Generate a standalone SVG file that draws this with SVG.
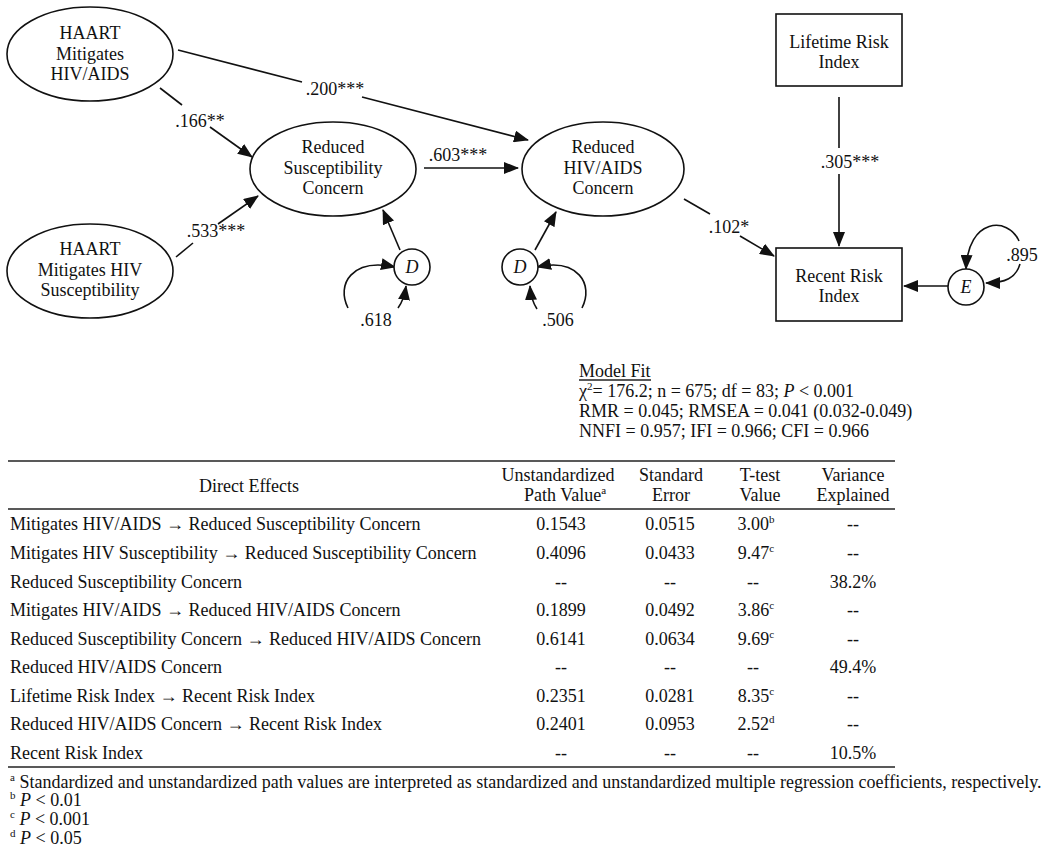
<svg xmlns="http://www.w3.org/2000/svg" width="1050" height="851" viewBox="0 0 1050 851">
<style>
text{font-family:"Liberation Serif","Times New Roman",serif;font-size:18px;fill:#111}
.c{text-anchor:middle}
.node{fill:#fff;stroke:#111;stroke-width:1.6}
.ln{fill:none;stroke:#111;stroke-width:1.6}
.ar{fill:none;stroke:#111;stroke-width:1.6;marker-end:url(#ah)}
.rule{stroke:#222;stroke-width:1.5}
.sup{font-size:11px}
</style>
<defs>
<marker id="ah" markerUnits="userSpaceOnUse" markerWidth="15" markerHeight="12" refX="14" refY="6" orient="auto">
<path d="M0,0 L15,6 L0,12 z" fill="#111"/>
</marker>
</defs>

<g id="connectors">
<path class="ln" d="M160,88 L182,105"/>
<path class="ar" d="M210,127 L252,157"/>
<path class="ln" d="M176,257 L193,243"/>
<path class="ar" d="M218,224 L258,196"/>
<path class="ln" d="M178,50 L302,82"/>
<path class="ar" d="M362,97 L528,140"/>
<path class="ar" d="M424,168 L518,168"/>
<path class="ln" d="M684,199 L710,214"/>
<path class="ar" d="M740,236 L774,256"/>
<path class="ln" d="M839,97 L839,148"/>
<path class="ar" d="M839,174 L839,246"/>
<path class="ar" d="M948,286 L904,286"/>
<path class="ar" d="M400,250 L383,210"/>
<path class="ar" d="M535,250 L556,212"/>
<path class="ar" d="M348,308 C336,284 352,258 395,267"/>
<path class="ar" d="M398,308 Q404,300 406,286"/>
<path class="ar" d="M582,308 C594,284 578,258 537,267"/>
<path class="ar" d="M537,309 Q531,300 530,286"/>
<path class="ar" d="M1019,241 C1008,216 968,218 966,269"/>
<path class="ar" d="M1020,264 C1016,278 1005,283 986,283"/>
</g>

<g id="labels">
<text class="c" x="200" y="127">.166**</text>
<text class="c" x="216" y="237">.533***</text>
<text class="c" x="335" y="95">.200***</text>
<text class="c" x="458" y="161">.603***</text>
<text class="c" x="729" y="233">.102*</text>
<text class="c" x="850" y="168">.305***</text>
<text class="c" x="376" y="326">.618</text>
<text class="c" x="558" y="326">.506</text>
<text class="c" x="1022" y="261">.895</text>
</g>

<g id="haart-aids">
<ellipse class="node" cx="90" cy="54" rx="83" ry="47"/>
<text class="c" x="90" y="39">HAART</text>
<text class="c" x="90" y="60">Mitigates</text>
<text class="c" x="90" y="80">HIV/AIDS</text>
</g>
<g id="haart-susc">
<ellipse class="node" cx="90" cy="271" rx="83" ry="47"/>
<text class="c" x="90" y="255">HAART</text>
<text class="c" x="90" y="276">Mitigates HIV</text>
<text class="c" x="90" y="296">Susceptibility</text>
</g>
<g id="reduced-susc">
<ellipse class="node" cx="333" cy="169" rx="83" ry="47"/>
<text class="c" x="333" y="153">Reduced</text>
<text class="c" x="333" y="174">Susceptibility</text>
<text class="c" x="333" y="194">Concern</text>
</g>
<g id="reduced-aids">
<ellipse class="node" cx="603" cy="169" rx="81" ry="47"/>
<text class="c" x="603" y="153">Reduced</text>
<text class="c" x="603" y="174">HIV/AIDS</text>
<text class="c" x="603" y="194">Concern</text>
</g>
<g id="lifetime">
<rect class="node" x="776" y="14" width="126" height="72"/>
<text class="c" x="839" y="48">Lifetime Risk</text>
<text class="c" x="839" y="68">Index</text>
</g>
<g id="recent">
<rect class="node" x="776" y="248" width="126" height="73"/>
<text class="c" x="839" y="282">Recent Risk</text>
<text class="c" x="839" y="302">Index</text>
</g>
<g id="d1">
<circle class="node" cx="412" cy="267" r="18"/>
<text class="c" x="412" y="273" font-style="italic">D</text>
</g>
<g id="d2">
<circle class="node" cx="520" cy="267" r="18"/>
<text class="c" x="520" y="273" font-style="italic">D</text>
</g>
<g id="e">
<circle class="node" cx="966" cy="287" r="18"/>
<text class="c" x="966" y="293" font-style="italic">E</text>
</g>

<g id="model-fit">
<text x="579" y="377">Model Fit</text>
<line class="rule" x1="579" y1="380" x2="651" y2="380" stroke-width="1"/>
<text x="579" y="397">χ<tspan class="sup" dy="-7">2</tspan><tspan dy="7">= 176.2; n = 675; df = 83; </tspan><tspan font-style="italic">P</tspan> &lt; 0.001</text>
<text x="579" y="417">RMR = 0.045; RMSEA = 0.041 (0.032-0.049)</text>
<text x="579" y="437">NNFI = 0.957; IFI = 0.966; CFI = 0.966</text>
</g>

<g id="table">
<line class="rule" x1="8" y1="461" x2="895" y2="461"/>
<line class="rule" x1="8" y1="509" x2="895" y2="509"/>
<line class="rule" x1="8" y1="767" x2="895" y2="767"/>
<text class="c" x="249" y="492">Direct Effects</text>
<text class="c" x="558" y="481">Unstandardized</text>
<text class="c" x="565" y="501">Path Value<tspan class="sup" dy="-7">a</tspan></text>
<text class="c" x="671" y="481">Standard</text>
<text class="c" x="671" y="501">Error</text>
<text class="c" x="760" y="481">T-test</text>
<text class="c" x="760" y="501">Value</text>
<text class="c" x="853" y="481">Variance</text>
<text class="c" x="853" y="501">Explained</text>

<text x="10" y="530">Mitigates HIV/AIDS → Reduced Susceptibility Concern</text>
<text class="c" x="561" y="530">0.1543</text>
<text class="c" x="670" y="530">0.0515</text>
<text class="c" x="756" y="530">3.00<tspan class="sup" dy="-7">b</tspan></text>
<text class="c" x="853" y="530">--</text>

<text x="10" y="559">Mitigates HIV Susceptibility → Reduced Susceptibility Concern</text>
<text class="c" x="561" y="559">0.4096</text>
<text class="c" x="670" y="559">0.0433</text>
<text class="c" x="756" y="559">9.47<tspan class="sup" dy="-7">c</tspan></text>
<text class="c" x="853" y="559">--</text>

<text x="10" y="588">Reduced Susceptibility Concern</text>
<text class="c" x="561" y="588">--</text>
<text class="c" x="670" y="588">--</text>
<text class="c" x="753" y="588">--</text>
<text class="c" x="853" y="588">38.2%</text>

<text x="10" y="616">Mitigates HIV/AIDS → Reduced HIV/AIDS Concern</text>
<text class="c" x="561" y="616">0.1899</text>
<text class="c" x="670" y="616">0.0492</text>
<text class="c" x="756" y="616">3.86<tspan class="sup" dy="-7">c</tspan></text>
<text class="c" x="853" y="616">--</text>

<text x="10" y="645">Reduced Susceptibility Concern → Reduced HIV/AIDS Concern</text>
<text class="c" x="561" y="645">0.6141</text>
<text class="c" x="670" y="645">0.0634</text>
<text class="c" x="756" y="645">9.69<tspan class="sup" dy="-7">c</tspan></text>
<text class="c" x="853" y="645">--</text>

<text x="10" y="673">Reduced HIV/AIDS Concern</text>
<text class="c" x="561" y="673">--</text>
<text class="c" x="670" y="673">--</text>
<text class="c" x="753" y="673">--</text>
<text class="c" x="853" y="673">49.4%</text>

<text x="10" y="702">Lifetime Risk Index → Recent Risk Index</text>
<text class="c" x="561" y="702">0.2351</text>
<text class="c" x="670" y="702">0.0281</text>
<text class="c" x="756" y="702">8.35<tspan class="sup" dy="-7">c</tspan></text>
<text class="c" x="853" y="702">--</text>

<text x="10" y="730">Reduced HIV/AIDS Concern → Recent Risk Index</text>
<text class="c" x="561" y="730">0.2401</text>
<text class="c" x="670" y="730">0.0953</text>
<text class="c" x="756" y="730">2.52<tspan class="sup" dy="-7">d</tspan></text>
<text class="c" x="853" y="730">--</text>

<text x="10" y="759">Recent Risk Index</text>
<text class="c" x="561" y="759">--</text>
<text class="c" x="670" y="759">--</text>
<text class="c" x="753" y="759">--</text>
<text class="c" x="853" y="759">10.5%</text>
</g>

<g id="footnotes">
<text x="10" y="788"><tspan class="sup" dy="-7">a</tspan><tspan dy="7"> Standardized and unstandardized path values are interpreted as standardized and unstandardized multiple regression coefficients, respectively.</tspan></text>
<text x="10" y="806"><tspan class="sup" dy="-7">b</tspan><tspan dy="7" font-style="italic"> P</tspan> &lt; 0.01</text>
<text x="10" y="825"><tspan class="sup" dy="-7">c</tspan><tspan dy="7" font-style="italic"> P</tspan> &lt; 0.001</text>
<text x="10" y="844"><tspan class="sup" dy="-7">d</tspan><tspan dy="7" font-style="italic"> P</tspan> &lt; 0.05</text>
</g>
</svg>
